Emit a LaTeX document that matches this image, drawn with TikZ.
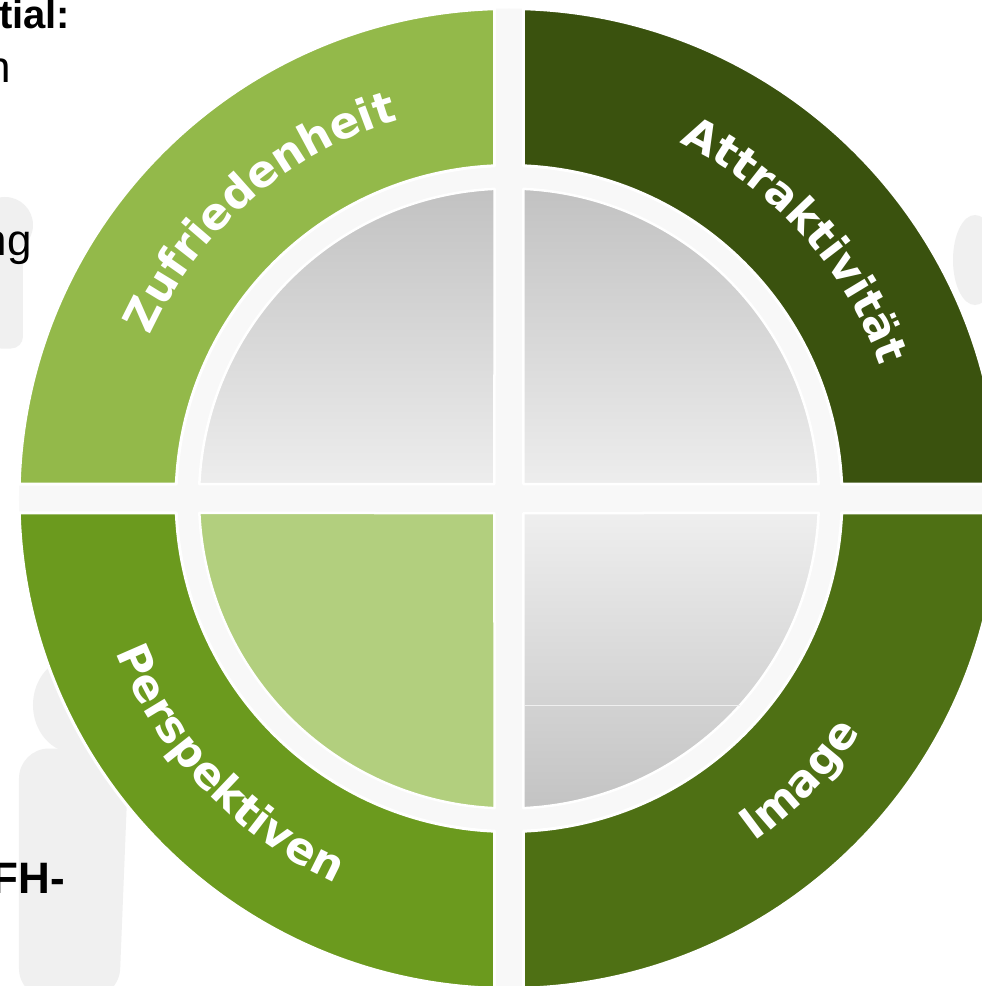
\documentclass[tikz,border=0pt]{standalone}
\usepackage{fontspec}
\setmainfont{Liberation Sans}
\newfontfamily\ringfont{DejaVu Sans}
\usetikzlibrary{decorations.text}
\definecolor{zuf}{HTML}{93B94A}
\definecolor{att}{HTML}{3A520E}
\definecolor{per}{HTML}{6B9A1E}
\definecolor{img}{HTML}{4E7014}
\definecolor{soft}{HTML}{B2CF7E}
\definecolor{band}{HTML}{F8F8F8}
\definecolor{ghost}{HTML}{F0F0F0}
\newcommand{\labelfont}{\ringfont\bfseries\fontsize{44}{50}\selectfont}

\begin{document}
\begin{tikzpicture}[x=1pt, y=1pt,
    sector/.style={draw=white, line width=3pt, line join=round},
    inner/.style={draw=white, line width=2.5pt, line join=round},
    greyup/.style={inner, top color=gray!48, bottom color=gray!14},
    greydown/.style={inner, top color=gray!13, bottom color=gray!47},
    ringtext/.style={decorate, decoration={text along path, text align=center, text color=white, text={|\labelfont|#1}}}]

  % frame
  \useasboundingbox (-509,-487.5) rectangle (473,498.5);
  \clip (-509,-487.5) rectangle (473,498.5);
  \fill[white] (-509,-487.5) rectangle (473,498.5);

  % faint figures in the background
  \fill[ghost] (-434,-206.5) ellipse[x radius=42pt, y radius=48pt];
  \fill[ghost, rounded corners=30pt] (-490,-500) -- (-490,-250) -- (-380,-250) -- (-390,-500) -- cycle;
  \fill[ghost] (-504,273.5) circle[radius=28pt];
  \fill[ghost, rounded corners=12pt] (-520,150) rectangle (-486,250);
  \fill[ghost] (466,238.5) ellipse[x radius=22pt, y radius=45pt];

  % text cut off at the left edge
  \node[anchor=base west, inner sep=0pt, font=\bfseries\fontsize{40}{46}\selectfont] (head) at (-510,470) {tial:};
  \node[anchor=base east, inner sep=0pt, font=\fontsize{44}{50}\selectfont] (row1) at (-498,415.5) {n};
  \node[anchor=base east, inner sep=0pt, font=\fontsize{44}{50}\selectfont] (row2) at (-477,243.5) {ng};
  \node[anchor=base east, inner sep=0pt, font=\bfseries\fontsize{44}{50}\selectfont] (foot) at (-444,-394.5) {FH-};

  % half gap, offset angles
  \pgfmathsetmacro{\g}{14.5}
  \pgfmathsetmacro{\ao}{asin(\g/490)}
  \pgfmathsetmacro{\ai}{asin(\g/333)}
  \pgfmathsetmacro{\ad}{asin(\g/310)}
  \pgfmathsetmacro{\gc}{\g*sqrt(2)}

  % light disc behind everything
  \fill[band] (0,0) circle[radius=490pt];

  % outer ring, one sector per quadrant
  \foreach \a/\col in {0/att, 90/zuf, 180/per, 270/img} {
    \path[sector, fill=\col]
      (\a+\ao:490pt) arc[start angle=\a+\ao, end angle=\a+90-\ao, radius=490pt]
      -- (\a+90-\ai:333pt) arc[start angle=\a+90-\ai, end angle=\a+\ai, radius=333pt]
      -- cycle;
  }

  % inner disc, quarter by quarter
  \path[greyup] (45:\gc pt) -- (\ad:310pt) arc[start angle=\ad, end angle=90-\ad, radius=310pt] -- cycle;
  \path[greyup] (135:\gc pt) -- (90+\ad:310pt) arc[start angle=90+\ad, end angle=180-\ad, radius=310pt] -- cycle;
  \path[inner, fill=soft] (225:\gc pt) -- (180+\ad:310pt) arc[start angle=180+\ad, end angle=270-\ad, radius=310pt] -- cycle;
  \path[greydown] (315:\gc pt) -- (270+\ad:310pt) arc[start angle=270+\ad, end angle=360-\ad, radius=310pt] -- cycle;
  \draw[white!88!gray, line width=1pt] (15.5,-206.5) -- (231,-206.5);

  % labels along the ring
  \path[ringtext=Zufriedenheit] (171:394pt) arc[start angle=171, end angle=91, radius=394pt];
  \path[ringtext=Attraktivität] (82:394pt) arc[start angle=82, end angle=2, radius=394pt];
  \path[ringtext=Perspektiven] (183.5:422pt) arc[start angle=183.5, end angle=263.5, radius=422pt];
  \path[ringtext=Image] (276:422pt) arc[start angle=276, end angle=356, radius=422pt];
\end{tikzpicture}
\end{document}
